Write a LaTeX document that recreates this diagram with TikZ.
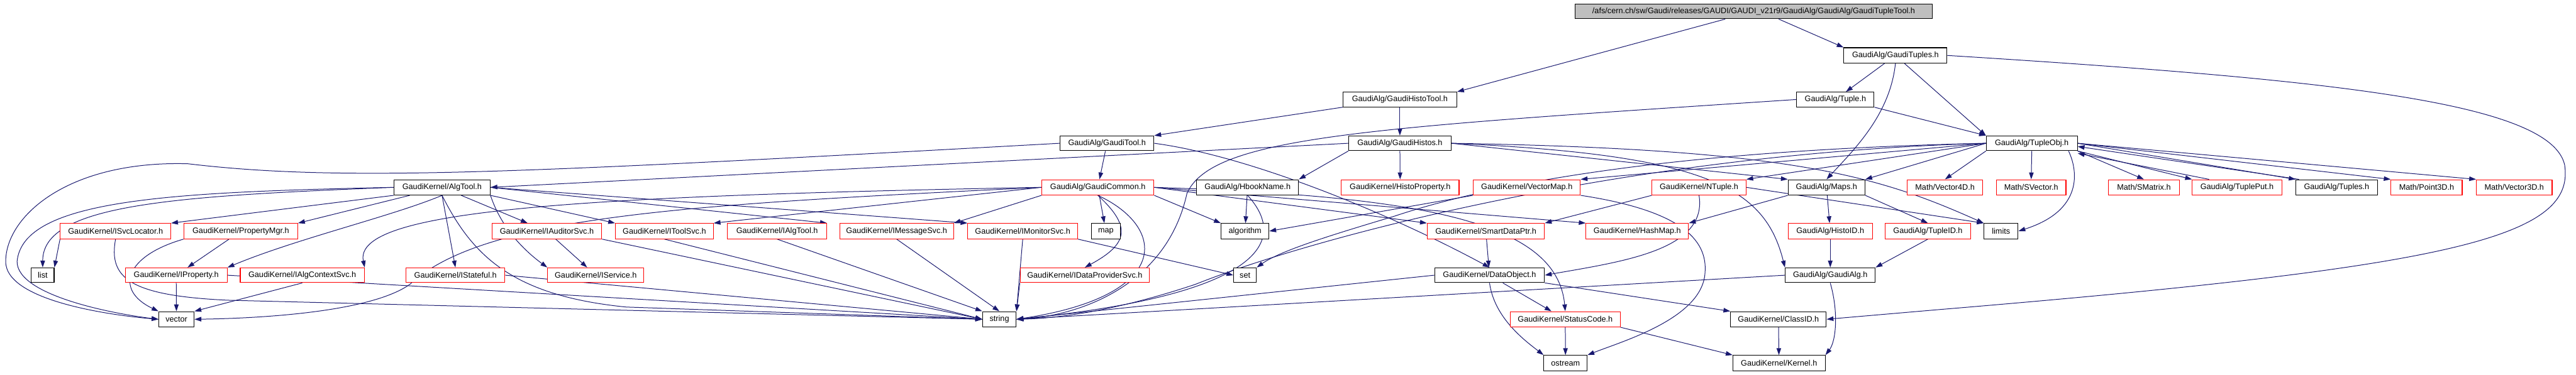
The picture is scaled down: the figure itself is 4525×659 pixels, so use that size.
\documentclass[tikz,border=0pt]{standalone}
\usepackage{fontspec}
\setmainfont{Liberation Sans}
\usetikzlibrary{arrows.meta}
\definecolor{edgec}{HTML}{191970}
\definecolor{topfill}{HTML}{BFBFBF}
\pgfdeclarelayer{bg}
\pgfdeclarelayer{paper}
\pgfsetlayers{paper,bg,main}
\tikzset{
 nd/.style={draw=black, fill=white, line width=0.6pt, inner sep=0pt, font=\fontsize{7}{8}\selectfont},
 rd/.style={nd, draw=red},
 tp/.style={nd, fill=topfill},
 e/.style={draw=edgec, line width=0.55pt, -{Triangle[length=6pt,width=4pt]}},
}
\newcommand\mkbox[7]{\node[#1, minimum width={(#4-#3)*0.5pt}, minimum height={(#6-#5)*0.5pt}] (#2) at ({(#3+#4)/2},{(#5+#6)/2}) {#7};}
\begin{document}
\begin{tikzpicture}[x=0.5pt,y=-0.5pt]
\begin{pgfonlayer}{paper}
\fill[white] (0,0) rectangle (4525,659);
\end{pgfonlayer}
\useasboundingbox (0,0) rectangle (4525,659);
% row 1-4
\mkbox{tp}{top}{2767}{3394}{7}{33}{/afs/cern.ch/sw/Gaudi/releases/GAUDI/GAUDI\_v21r9/GaudiAlg/GaudiAlg/GaudiTupleTool.h}
\mkbox{nd}{tuples}{3239}{3420}{84}{111}{GaudiAlg/GaudiTuples.h}
\mkbox{nd}{histotool}{2359}{2559}{162}{188}{GaudiAlg/GaudiHistoTool.h}
\mkbox{nd}{tuple}{3156}{3292}{162}{188}{GaudiAlg/Tuple.h}
\mkbox{nd}{gtool}{1862}{2027}{239}{265}{GaudiAlg/GaudiTool.h}
\mkbox{nd}{histos}{2369}{2549}{239}{265}{GaudiAlg/GaudiHistos.h}
\mkbox{nd}{tobj}{3489}{3649}{239}{265}{GaudiAlg/TupleObj.h}
% row 5
\mkbox{nd}{algtool}{692}{861}{316}{343}{GaudiKernel/AlgTool.h}
\mkbox{rd}{common}{1830}{2027}{316}{343}{GaudiAlg/GaudiCommon.h}
\mkbox{nd}{hbook}{2102}{2281}{316}{343}{GaudiAlg/HbookName.h}
\mkbox{rd}{hprop}{2356}{2563}{316}{343}{GaudiKernel/HistoProperty.h}
\mkbox{rd}{vmap}{2588}{2776}{316}{343}{GaudiKernel/VectorMap.h}
\mkbox{rd}{ntuple}{2902}{3067}{316}{343}{GaudiKernel/NTuple.h}
\mkbox{nd}{maps}{3141}{3276}{316}{343}{GaudiAlg/Maps.h}
\mkbox{rd}{v4d}{3350}{3483}{316}{343}{Math/Vector4D.h}
\mkbox{rd}{svec}{3507}{3629}{316}{343}{Math/SVector.h}
\mkbox{rd}{smat}{3704}{3828}{316}{343}{Math/SMatrix.h}
\mkbox{rd}{tput}{3851}{4008}{316}{343}{GaudiAlg/TuplePut.h}
\mkbox{nd}{tuplesb}{4033}{4176}{316}{343}{GaudiAlg/Tuples.h}
\mkbox{rd}{p3d}{4200}{4325}{316}{343}{Math/Point3D.h}
\mkbox{rd}{v3d}{4350}{4483}{316}{343}{Math/Vector3D.h}
% row 6
\mkbox{rd}{svcloc}{106}{300}{393}{420}{GaudiKernel/ISvcLocator.h}
\mkbox{rd}{propmgr}{323}{523}{393}{420}{GaudiKernel/PropertyMgr.h}
\mkbox{rd}{audsvc}{864}{1057}{393}{420}{GaudiKernel/IAuditorSvc.h}
\mkbox{rd}{toolsvc}{1081}{1253}{393}{420}{GaudiKernel/IToolSvc.h}
\mkbox{rd}{ialgtool}{1278}{1452}{393}{420}{GaudiKernel/IAlgTool.h}
\mkbox{rd}{msgsvc}{1475}{1675}{393}{420}{GaudiKernel/IMessageSvc.h}
\mkbox{rd}{monsvc}{1700}{1893}{393}{420}{GaudiKernel/IMonitorSvc.h}
\mkbox{nd}{map}{1917}{1968}{393}{420}{map}
\mkbox{nd}{algorithm}{2145}{2229}{393}{420}{algorithm}
\mkbox{rd}{sdptr}{2507}{2713}{393}{420}{GaudiKernel/SmartDataPtr.h}
\mkbox{rd}{hashmap}{2786}{2966}{393}{420}{GaudiKernel/HashMap.h}
\mkbox{rd}{histoid}{3141}{3289}{393}{420}{GaudiAlg/HistoID.h}
\mkbox{rd}{tupleid}{3311}{3462}{393}{420}{GaudiAlg/TupleID.h}
\mkbox{nd}{limits}{3485}{3545}{393}{420}{limits}
% row 7
\mkbox{nd}{list}{55}{95}{471}{497}{list}
\mkbox{rd}{iprop}{220}{399}{471}{497}{GaudiKernel/IProperty.h}
\mkbox{rd}{algctx}{422}{640}{471}{497}{GaudiKernel/IAlgContextSvc.h}
\mkbox{rd}{istate}{713}{887}{471}{497}{GaudiKernel/IStateful.h}
\mkbox{rd}{iservice}{962}{1131}{471}{497}{GaudiKernel/IService.h}
\mkbox{rd}{idp}{1792}{2019}{471}{497}{GaudiKernel/IDataProviderSvc.h}
\mkbox{nd}{set}{2167}{2207}{471}{497}{set}
\mkbox{nd}{dobj}{2520}{2713}{471}{497}{GaudiKernel/DataObject.h}
\mkbox{nd}{galg}{3136}{3294}{471}{497}{GaudiAlg/GaudiAlg.h}
% row 8
\mkbox{nd}{vector}{279}{341}{548}{575}{vector}
\mkbox{nd}{string}{1726}{1785}{548}{575}{string}
\mkbox{rd}{status}{2653}{2846}{548}{575}{GaudiKernel/StatusCode.h}
\mkbox{nd}{classid}{3040}{3208}{548}{575}{GaudiKernel/ClassID.h}
% row 9
\mkbox{nd}{ostream}{2712}{2788}{625}{652}{ostream}
\mkbox{nd}{kernel}{3044}{3206}{625}{652}{GaudiKernel/Kernel.h}

\begin{pgfonlayer}{bg}
% top levels
\draw[e] ([xshift=-25pt]top.south) -- (histotool.north east);
\draw[e] ([xshift=22pt]top.south) -- (tuples.north west);
\draw[e] (tuples) -- (tuple);
\draw[e] (tuples) -- (tobj.north west);
\draw[e] (tuples.south) .. controls (3320,200) and (3260,260) .. (maps.north);
\draw[e] (tuples.east) .. controls (4100,140) and (4480,180) .. (4505,290) .. controls (4525,420) and (4300,470) .. (3400,545) -- (classid.east);
\draw[e] (histotool.south west) -- (gtool.north east);
\draw[e] (histotool) -- (histos);
\draw[e] (tuple.south east) -- (tobj.north west);
\draw[e] (tuple.west) .. controls (2400,225) and (2130,240) .. (2085,340) .. controls (2050,500) and (1900,555) .. (string.east);
% GaudiTool
\draw[e] (gtool) -- (common);
\draw[e] (gtool.west) .. controls (900,305) and (600,320) .. (330,288) .. controls (120,282) and (10,380) .. (10,460) .. controls (10,530) and (200,555) .. (vector.west);
\draw[e] (gtool.east) .. controls (2200,275) and (2450,380) .. (dobj.north);
% GaudiHistos
\draw[e] (histos.west) -- (algtool.east);
\draw[e] (histos.south west) -- (hbook.north east);
\draw[e] (histos) -- (hprop);
\draw[e] (histos.east) -- (maps.north west);
\draw[e] (histos.east) .. controls (3000,272) and (3100,330) .. (galg.north west);
\draw[e] (histos.east) .. controls (3150,262) and (3300,310) .. (limits.north west);
% AlgTool
\draw[e] (algtool.west) .. controls (300,345) and (75,360) .. (list.north);
\draw[e] (algtool.west) .. controls (300,338) and (40,350) .. (30,460) .. controls (30,520) and (200,552) .. (vector.west);
\draw[e] (algtool.south west) -- (svcloc.north east);
\draw[e] (algtool) -- (propmgr.north east);
\draw[e] (algtool.south) .. controls (690,380) and (520,420) .. (iprop.north east);
\draw[e] (algtool.south) -- (istate.north);
\draw[e] (algtool.south east) .. controls (880,400) and (920,440) .. (iservice.north west);
\draw[e] (algtool) -- (audsvc);
\draw[e] (algtool.south east) -- (toolsvc.north west);
\draw[e] (algtool.east) -- (ialgtool.north east);
\draw[e] (algtool.east) -- (monsvc.north west);
\draw[e] (algtool.south) .. controls (830,450) and (900,520) .. (1100,540) -- (string.west);
% row 6/7 lower ones
\draw[e] (svcloc.south west) -- (list.north east);
\draw[e] (svcloc.south) .. controls (190,490) and (230,520) .. (400,528) -- (string.west);
\draw[e] (propmgr) -- (iprop);
\draw[e] (propmgr.south west) .. controls (220,450) and (200,510) .. (vector.north west);
\draw[e] (iprop) -- (vector);
\draw[e] (iprop.east) -- (string.west);
\draw[e] (algctx.south) -- (vector.north east);
\draw[e] (istate.east) -- (string.west);
\draw[e] (audsvc) -- (iservice);
\draw[e] (audsvc.south east) -- (string.west);
\draw[e] (toolsvc.south) -- (string.west);
\draw[e] (ialgtool.south) -- (string.north west);
\draw[e] (msgsvc.south) -- (string.north);
\draw[e] (monsvc.south) -- (string.north east);
\draw[e] (monsvc.south east) -- (set.west);
\draw[e] (idp.south west) -- (string.north east);
% GaudiCommon
\draw[e] (common.west) .. controls (1200,360) and (850,380) .. (720,500) .. controls (650,550) and (450,560) .. (vector.east);
\draw[e] (common.west) .. controls (1000,345) and (620,370) .. (algctx.north east);
\draw[e] (common.west) -- (toolsvc.north east);
\draw[e] (common.south west) -- (msgsvc.north east);
\draw[e] (common) -- (map);
\draw[e] (common.south east) -- (algorithm.north west);
\draw[e] (common.south) .. controls (1990,400) and (1980,430) .. (idp.north);
\draw[e] (common.south) .. controls (2050,400) and (2060,520) .. (string.east);
\draw[e] (common.east) .. controls (2500,345) and (2735,390) .. (status.north);
\draw[e] (common.east) -- (sdptr.north west);
\draw[e] (common.east) -- (hashmap.north west);
% HbookName, VectorMap, NTuple
\draw[e] (hbook) -- (algorithm);
\draw[e] (hbook.south) .. controls (2270,430) and (2200,520) .. (string.east);
\draw[e] (vmap.south west) -- (algorithm.east);
\draw[e] (vmap.south east) .. controls (2950,370) and (3000,420) .. (2995,480) .. controls (2990,560) and (2850,600) .. (ostream.north east);
\draw[e] (ntuple.south west) -- (sdptr.north east);
\draw[e] (ntuple.south) .. controls (3000,440) and (2850,460) .. (dobj.east);
\draw[e] (ntuple.east) -- (limits.north west);
% Maps etc
\draw[e] (maps.south west) -- (hashmap.north east);
\draw[e] (maps) -- (histoid);
\draw[e] (maps.south east) -- (tupleid.north);
\draw[e] (histoid) -- (galg);
\draw[e] (tupleid.south) -- (galg.north east);
\draw[e] (sdptr) -- (dobj);
\draw[e] (dobj) -- (status);
\draw[e] (dobj.south east) -- (classid.north west);
\draw[e] (dobj.south) .. controls (2625,560) and (2680,600) .. (ostream.north west);
\draw[e] (dobj.west) -- (string.east);
\draw[e] (galg.west) -- (string.east);
\draw[e] (galg.south) .. controls (3230,550) and (3225,600) .. (kernel.north east);
\draw[e] (status) -- (ostream);
\draw[e] (status.south east) -- (kernel.north west);
\draw[e] (classid) -- (kernel);
% TupleObj
\draw[e] (tobj.west) -- (vmap.north east);
\draw[e] (tobj.west) -- (ntuple.north east);
\draw[e] (tobj.west) -- (maps.north east);
\draw[e] (tobj.west) .. controls (2900,265) and (2600,330) .. (2450,380) .. controls (2350,410) and (2250,440) .. (set.north east);
\draw[e] (tobj.west) .. controls (2850,270) and (2300,420) .. (2100,500) .. controls (1950,550) and (1850,560) .. (string.east);
\draw[e] (tobj.south west) -- (v4d.north);
\draw[e] (tobj.south) -- (svec.north);
\draw[e] (tobj.south east) -- (smat.north);
\draw[e] ([xshift=-8pt]tobj.south east) .. controls (3650,300) and (3660,370) .. (limits.east);
\draw[e] (tobj.south east) -- (tput.north west);
\draw[e] ([xshift=15pt]tput.north west) -- ([yshift=-2pt]tobj.south east);
\draw[e] (tobj.east) -- (tuplesb.north west);
\draw[e] ([xshift=3pt]tuplesb.north west) -- ([yshift=4pt]tobj.south east);
\draw[e] (tobj.east) -- (p3d.north west);
\draw[e] (tobj.east) -- (v3d.north west);
\end{pgfonlayer}
\end{tikzpicture}
\end{document}
